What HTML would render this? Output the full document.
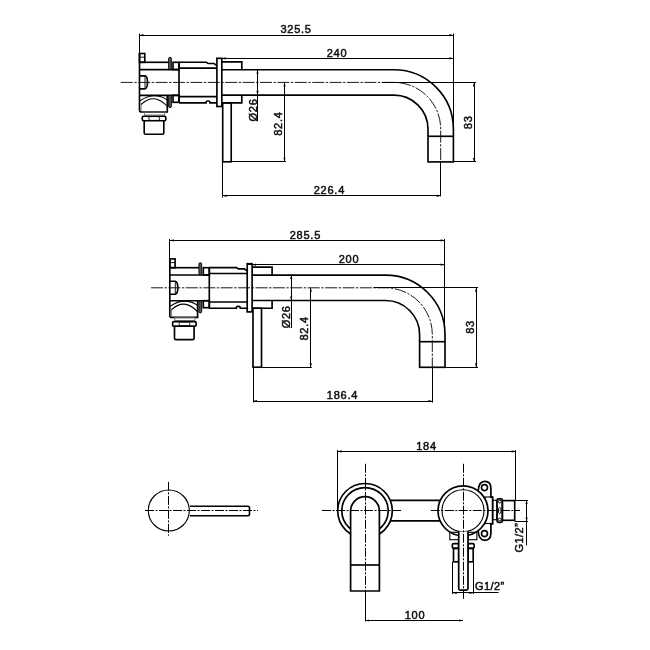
<!DOCTYPE html>
<html><head><meta charset="utf-8"><style>
html,body{margin:0;padding:0;background:#fff;}
svg{display:block;will-change:transform;}
.k{fill:none;stroke:#000;stroke-width:1.65;}
.k1{fill:none;stroke:#000;stroke-width:1.1;}
.k2{fill:none;stroke:#000;stroke-width:0.9;}
.kw{fill:#fff;stroke:#000;stroke-width:1.7;}
.wf{fill:#555;stroke:#000;stroke-width:0.9;}
.g{fill:none;stroke:#666;stroke-width:0.8;}
.t{fill:none;stroke:#000;stroke-width:1;}
.ar{fill:#000;stroke:none;}
.c{fill:none;stroke:#000;stroke-width:0.9;stroke-dasharray:12 1.5 2.4 1.5;}
.c2{fill:none;stroke:#000;stroke-width:1;stroke-dasharray:9 1.5 2 1.5;}
text{font-family:"Liberation Sans",sans-serif;font-size:11px;fill:#111;stroke:#111;stroke-width:0.5px;letter-spacing:0.75px;}
</style></head><body>
<svg width="650" height="650" viewBox="0 0 650 650">
<rect x="0" y="0" width="650" height="650" fill="#fff"/>
<g transform="translate(0,0)">
<path class="k" d="M139.5,95.3 V110 Q139.5,112 141.5,112 H167.3 V95.3"/>
<path class="k1" d="M140,100.8 Q154.2,91 167.3,100"/>
<path class="k1" d="M141,104.5 Q154.2,92 167.3,106.5"/>
<path class="g" d="M141.2,104.5 V111"/>
<rect class="g" x="144.6" y="112" width="20.0" height="3"/>
<rect class="k" x="142.3" y="116.2" width="23.5" height="4.6" rx="1.2"/>
<rect class="k2" x="148.8" y="116.6" width="10.8" height="3.8" rx="1.6"/>
<path class="k" d="M144.2,120.8 V132.8 Q144.2,134.2 145.6,134.2 H162.4 Q163.8,134.2 163.8,132.8 V120.8"/>
<rect class="k" x="139.5" y="53.5" width="5.3" height="8.8"/>
<line class="k2" x1="139.5" y1="57.2" x2="144.8" y2="57.2"/>
<line class="k" x1="139.5" y1="53" x2="139.5" y2="95.3"/>
<line class="k" x1="139.5" y1="62.3" x2="168.5" y2="62.3"/>
<line class="k" x1="139.5" y1="69.6" x2="179" y2="69.6"/>
<line class="k" x1="139.5" y1="95.3" x2="179" y2="95.3"/>
<path class="k" d="M139.5,75.8 H145 Q147.5,76.5 147.5,82.3 Q147.5,88.1 145,88.8 H139.5"/>
<line class="k2" x1="145" y1="75.8" x2="145" y2="88.8"/>
<rect class="wf" x="168.6" y="57.3" width="2.8" height="12.3" rx="1.4"/>
<rect class="wf" x="168.6" y="95.3" width="2.8" height="12.3" rx="1.4"/>
<rect class="k" x="173" y="62.3" width="6" height="7.3"/>
<rect class="k" x="173" y="95.3" width="6" height="7.0"/>
<path class="k" d="M179,62.2 H206.3 L208,63.5 H214 L216.9,65.6"/>
<line class="k" x1="179" y1="68.1" x2="216.9" y2="68.1"/>
<line class="k" x1="179" y1="96.6" x2="216.9" y2="96.6"/>
<path class="k" d="M179,102.8 H206 Q206,101 207.5,101 H208.5 Q210,101 210,102.8 H216.9"/>
<line class="k" x1="179" y1="62.2" x2="179" y2="102.8"/>
<rect class="k" x="216.9" y="58.3" width="4.9" height="48.2"/>
<path class="k" d="M221.8,61.8 H241.8 V69.7"/>
<path class="k" d="M221.8,102.8 H241.8 V95.1"/>
</g>
<path class="k" d="M221.8,69.7 H394 A59.4,59.4 0 0 1 453.4,129.1 V136.3"/>
<path class="k" d="M221.8,95.1 H394 A34,34 0 0 1 428,129.1 V136.3"/>
<rect class="k" x="428" y="136.3" width="25.4" height="25.6"/>
<rect class="k" x="222.7" y="102.8" width="8.5" height="59.0"/>
<path class="c" d="M120.8,82.4 H394 A46.7,46.7 0 0 1 440.7,129.1 V161.9"/>
<line class="t" x1="139.5" y1="33.5" x2="139.5" y2="53.5"/>
<line class="t" x1="453.5" y1="33.5" x2="453.5" y2="124"/>
<line class="t" x1="139.5" y1="35.5" x2="453.4" y2="35.5"/>
<path class="ar" d="M139.5,35.2 l4,-1.1 v2.2 z"/>
<path class="ar" d="M453.4,35.2 l-4,-1.1 v2.2 z"/>
<text x="296.1" y="33.4" text-anchor="middle">325.5</text>
<line class="t" x1="216.9" y1="58.5" x2="453.4" y2="58.5"/>
<path class="ar" d="M221.8,58.3 l4,-1.1 v2.2 z"/>
<path class="ar" d="M453.4,58.3 l-4,-1.1 v2.2 z"/>
<text x="337" y="57" text-anchor="middle">240</text>
<line class="t" x1="257.5" y1="69.7" x2="257.5" y2="121"/>
<path class="ar" d="M257.5,69.7 l-1.1,4 h2.2 z"/>
<path class="ar" d="M257.5,95.1 l-1.1,-4 h2.2 z"/>
<text x="0" y="0" text-anchor="middle" transform="translate(257.3,110) rotate(-90)">Ø26</text>
<line class="t" x1="382" y1="82.5" x2="476" y2="82.5"/>
<line class="t" x1="284.5" y1="82.4" x2="284.5" y2="161.8"/>
<path class="ar" d="M284.5,82.4 l-1.1,4 h2.2 z"/>
<path class="ar" d="M284.5,161.8 l-1.1,-4 h2.2 z"/>
<line class="t" x1="231.2" y1="161.5" x2="286" y2="161.5"/>
<text x="0" y="0" text-anchor="middle" transform="translate(281.9,123.6) rotate(-90)">82.4</text>
<line class="t" x1="222.5" y1="161.8" x2="222.5" y2="197.6"/>
<line class="t" x1="440.5" y1="161.9" x2="440.5" y2="196.4"/>
<line class="t" x1="222.7" y1="195.5" x2="440.7" y2="195.5"/>
<path class="ar" d="M222.7,195.8 l4,-1.1 v2.2 z"/>
<path class="ar" d="M440.7,195.8 l-4,-1.1 v2.2 z"/>
<text x="329.4" y="193.5" text-anchor="middle">226.4</text>
<line class="t" x1="453.4" y1="161.5" x2="476" y2="161.5"/>
<line class="t" x1="474.5" y1="82.4" x2="474.5" y2="161.9"/>
<path class="ar" d="M474,82.4 l-1.1,4 h2.2 z"/>
<path class="ar" d="M474,161.9 l-1.1,-4 h2.2 z"/>
<text x="0" y="0" text-anchor="middle" transform="translate(471.9,122.3) rotate(-90)">83</text>
<g transform="translate(30.3,205.4)">
<path class="k" d="M139.5,95.3 V110 Q139.5,112 141.5,112 H167.3 V95.3"/>
<path class="k1" d="M140,100.8 Q154.2,91 167.3,100"/>
<path class="k1" d="M141,104.5 Q154.2,92 167.3,106.5"/>
<path class="g" d="M141.2,104.5 V111"/>
<rect class="g" x="144.6" y="112" width="20.0" height="3"/>
<rect class="k" x="142.3" y="116.2" width="23.5" height="4.6" rx="1.2"/>
<rect class="k2" x="148.8" y="116.6" width="10.8" height="3.8" rx="1.6"/>
<path class="k" d="M144.2,120.8 V132.8 Q144.2,134.2 145.6,134.2 H162.4 Q163.8,134.2 163.8,132.8 V120.8"/>
<rect class="k" x="139.5" y="53.5" width="5.3" height="8.8"/>
<line class="k2" x1="139.5" y1="57.2" x2="144.8" y2="57.2"/>
<line class="k" x1="139.5" y1="53" x2="139.5" y2="95.3"/>
<line class="k" x1="139.5" y1="62.3" x2="168.5" y2="62.3"/>
<line class="k" x1="139.5" y1="69.6" x2="179" y2="69.6"/>
<line class="k" x1="139.5" y1="95.3" x2="179" y2="95.3"/>
<path class="k" d="M139.5,75.8 H145 Q147.5,76.5 147.5,82.3 Q147.5,88.1 145,88.8 H139.5"/>
<line class="k2" x1="145" y1="75.8" x2="145" y2="88.8"/>
<rect class="wf" x="168.6" y="57.3" width="2.8" height="12.3" rx="1.4"/>
<rect class="wf" x="168.6" y="95.3" width="2.8" height="12.3" rx="1.4"/>
<rect class="k" x="173" y="62.3" width="6" height="7.3"/>
<rect class="k" x="173" y="95.3" width="6" height="7.0"/>
<path class="k" d="M179,62.2 H206.3 L208,63.5 H214 L216.9,65.6"/>
<line class="k" x1="179" y1="68.1" x2="216.9" y2="68.1"/>
<line class="k" x1="179" y1="96.6" x2="216.9" y2="96.6"/>
<path class="k" d="M179,102.8 H206 Q206,101 207.5,101 H208.5 Q210,101 210,102.8 H216.9"/>
<line class="k" x1="179" y1="62.2" x2="179" y2="102.8"/>
<rect class="k" x="216.9" y="58.3" width="4.9" height="48.2"/>
<path class="k" d="M221.8,61.8 H241.8 V69.7"/>
<path class="k" d="M221.8,102.8 H241.8 V95.1"/>
</g>
<path class="k" d="M252.10000000000002,275.1 H385.6 A59.4,59.4 0 0 1 445.0,334.5 V341.70000000000005"/>
<path class="k" d="M252.10000000000002,300.5 H385.6 A34,34 0 0 1 419.6,334.5 V341.70000000000005"/>
<rect class="k" x="419.6" y="341.70000000000005" width="25.4" height="25.6"/>
<rect class="k" x="253.0" y="308.2" width="8.5" height="59.0"/>
<path class="c" d="M151.1,287.8 H385.6 A46.7,46.7 0 0 1 432.3,334.5 V367.3"/>
<line class="t" x1="169.5" y1="239" x2="169.5" y2="258.5"/>
<line class="t" x1="444.5" y1="239" x2="444.5" y2="329"/>
<line class="t" x1="169.8" y1="240.5" x2="444.6" y2="240.5"/>
<path class="ar" d="M169.8,240.4 l4,-1.1 v2.2 z"/>
<path class="ar" d="M444.6,240.4 l-4,-1.1 v2.2 z"/>
<text x="305.4" y="238.8" text-anchor="middle">285.5</text>
<line class="t" x1="247.2" y1="264.5" x2="444.6" y2="264.5"/>
<path class="ar" d="M252.1,264.7 l4,-1.1 v2.2 z"/>
<path class="ar" d="M444.6,264.7 l-4,-1.1 v2.2 z"/>
<text x="349" y="262.5" text-anchor="middle">200</text>
<line class="t" x1="291.5" y1="275.1" x2="291.5" y2="328"/>
<path class="ar" d="M291.2,275.1 l-1.1,4 h2.2 z"/>
<path class="ar" d="M291.2,300.5 l-1.1,-4 h2.2 z"/>
<text x="0" y="0" text-anchor="middle" transform="translate(290.2,316.8) rotate(-90)">Ø26</text>
<line class="t" x1="373.6" y1="287.5" x2="478" y2="287.5"/>
<line class="t" x1="310.5" y1="287.8" x2="310.5" y2="367.2"/>
<path class="ar" d="M310.8,287.8 l-1.1,4 h2.2 z"/>
<path class="ar" d="M310.8,367.2 l-1.1,-4 h2.2 z"/>
<line class="t" x1="261.5" y1="367.5" x2="311.8" y2="367.5"/>
<text x="0" y="0" text-anchor="middle" transform="translate(308.4,328.4) rotate(-90)">82.4</text>
<line class="t" x1="253.5" y1="367.2" x2="253.5" y2="402.5"/>
<line class="t" x1="432.5" y1="367.3" x2="432.5" y2="402.5"/>
<line class="t" x1="253" y1="401.5" x2="432.3" y2="401.5"/>
<path class="ar" d="M253,401 l4,-1.1 v2.2 z"/>
<path class="ar" d="M432.3,401 l-4,-1.1 v2.2 z"/>
<text x="342.5" y="398.8" text-anchor="middle">186.4</text>
<line class="t" x1="444.6" y1="367.5" x2="478" y2="367.5"/>
<line class="t" x1="476.5" y1="287.8" x2="476.5" y2="367.3"/>
<path class="ar" d="M476.1,287.8 l-1.1,4 h2.2 z"/>
<path class="ar" d="M476.1,367.3 l-1.1,-4 h2.2 z"/>
<text x="0" y="0" text-anchor="middle" transform="translate(474.4,326.9) rotate(-90)">83</text>
<circle class="k1" cx="168.8" cy="510.5" r="20.5"/>
<path class="k" d="M190,506.2 H248 Q249.5,506.2 249.5,507.7 V514.2 Q249.5,515.7 248,515.7 H190"/>
<line class="c2" x1="168.5" y1="481.9" x2="168.5" y2="535.7"/>
<line class="c2" x1="145" y1="510.5" x2="258" y2="510.5"/>
<line class="k" x1="391" y1="500.3" x2="440" y2="500.3"/>
<line class="k" x1="391" y1="520.8" x2="440" y2="520.8"/>
<circle class="kw" cx="365" cy="510.8" r="27.3"/>
<circle class="k" cx="365" cy="510.8" r="23.2"/>
<path class="kw" d="M350.6,591 V511 A14.4,14.4 0 0 1 379.4,511 V591 Z"/>
<line class="k" x1="350.6" y1="565" x2="379.4" y2="565"/>
<path class="kw" d="M478.2,490.8 Q478.6,481.3 484.9,481.3 Q490.9,481.3 490.9,488.5 V497.2 H492.6 V523.8 H490.9 V533.1 Q490.9,540.3 484.9,540.3 Q478.6,540.3 478.2,530.8"/>
<circle class="k" cx="484.5" cy="487.6" r="3"/>
<circle class="k" cx="484.5" cy="533.6" r="3"/>
<rect class="k1" x="485" y="497" width="7.6" height="26.5"/>
<rect class="k1" x="492.6" y="500.3" width="4.4" height="19.4"/>
<rect class="k" x="497" y="498.8" width="5.4" height="23.5" rx="1.5"/>
<circle class="k2" cx="499.7" cy="501.6" r="1.4"/>
<circle class="k2" cx="499.7" cy="519.5" r="1.4"/>
<ellipse class="k2" cx="499.7" cy="510.6" rx="1.3" ry="3.2"/>
<rect class="k" x="502.3" y="500.6" width="12.4" height="19.7"/>
<circle class="kw" cx="463" cy="510.8" r="25"/>
<circle class="k1" cx="463" cy="510.8" r="21"/>
<rect class="k1" x="449.8" y="532.3" width="8.9" height="7.4"/>
<rect class="k1" x="468" y="532.3" width="8.9" height="7.4"/>
<rect class="k" x="452.3" y="543.6" width="6.4" height="4.7" rx="1.5"/>
<rect class="k" x="468" y="543.6" width="6.2" height="4.7" rx="1.5"/>
<rect class="k" x="453.5" y="548.3" width="5.2" height="13.5"/>
<rect class="k" x="468" y="548.3" width="5.2" height="13.5"/>
<path class="kw" d="M458.7,531.5 V588.6 Q458.7,590.2 460.3,590.2 H466.4 Q468,590.2 468,588.6 V531.5"/>
<line class="c2" x1="365.5" y1="463.8" x2="365.5" y2="591"/>
<line class="c2" x1="322" y1="510.5" x2="402.7" y2="510.5"/>
<line class="c2" x1="430.8" y1="510.5" x2="520" y2="510.5"/>
<line class="c2" x1="463.5" y1="463.8" x2="463.5" y2="600"/>
<line class="t" x1="337.5" y1="450" x2="337.5" y2="510.8"/>
<line class="t" x1="515.5" y1="450" x2="515.5" y2="500"/>
<line class="t" x1="337.6" y1="451.5" x2="515.6" y2="451.5"/>
<path class="ar" d="M337.6,451.4 l4,-1.1 v2.2 z"/>
<path class="ar" d="M515.6,451.4 l-4,-1.1 v2.2 z"/>
<text x="426.5" y="449.8" text-anchor="middle">184</text>
<line class="t" x1="365.5" y1="591" x2="365.5" y2="621.5"/>
<line class="t" x1="365" y1="620.5" x2="463" y2="620.5"/>
<path class="ar" d="M365,620.5 l4,-1.1 v2.2 z"/>
<path class="ar" d="M463,620.5 l-4,-1.1 v2.2 z"/>
<text x="415" y="619" text-anchor="middle">100</text>
<line class="t" x1="452.5" y1="561.8" x2="452.5" y2="594"/>
<line class="t" x1="473.5" y1="561.8" x2="473.5" y2="594"/>
<line class="t" x1="452.9" y1="592.5" x2="498.5" y2="592.5"/>
<path class="ar" d="M452.9,592.9 l4,-1.1 v2.2 z"/>
<path class="ar" d="M473.2,592.9 l-4,-1.1 v2.2 z"/>
<text x="475" y="589.5" text-anchor="start" style="letter-spacing:0.4px">G1/2”</text>
<line class="t" x1="514.7" y1="500.5" x2="528" y2="500.5"/>
<line class="t" x1="514.7" y1="521.5" x2="528" y2="521.5"/>
<line class="t" x1="526.5" y1="500" x2="526.5" y2="545.5"/>
<path class="ar" d="M526.6,500 l-1.1,4 h2.2 z"/>
<path class="ar" d="M526.6,521.6 l-1.1,-4 h2.2 z"/>
<text x="0" y="0" text-anchor="middle" style="letter-spacing:0.45px" transform="translate(523,537.6) rotate(-90)">G1/2”</text>
</svg>
</body></html>
